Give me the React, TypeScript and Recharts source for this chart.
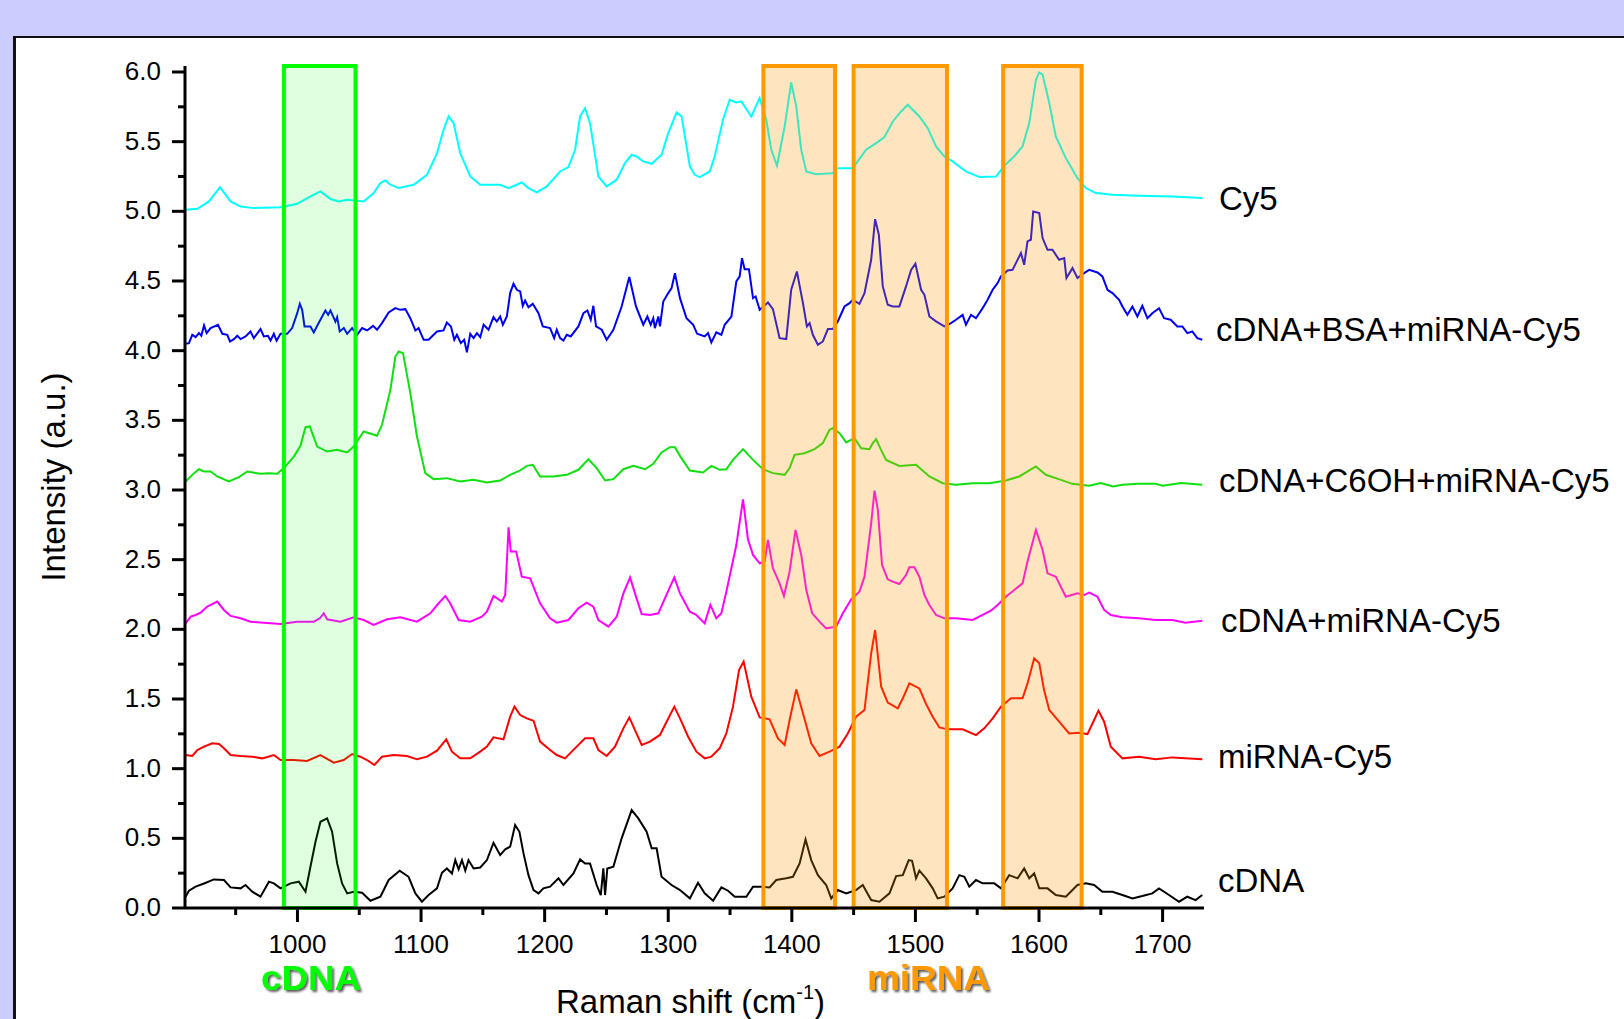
import { LineChart, Line, XAxis, YAxis, ReferenceArea } from 'recharts';

// Raman shift (cm-1) vs intensity, each spectrum as [shift, intensity]
const cy5: [number, number][] = [
  [909.5, 5.011], [919, 5.018], [928.4, 5.071], [937.3, 5.174], [945.9, 5.071], [954, 5.035], [964.7, 5.023],
  [986.3, 5.03], [999.8, 5.054], [1010.5, 5.107], [1018.6, 5.143], [1026.7, 5.088], [1033.4, 5.071], [1040.2, 5.083],
  [1053.6, 5.071], [1061.7, 5.131], [1067.1, 5.203], [1071.1, 5.222], [1075.2, 5.191], [1081.9, 5.167], [1094, 5.191],
  [1104.8, 5.262], [1112.9, 5.418], [1118.2, 5.585], [1122.3, 5.681], [1126.3, 5.633], [1131.7, 5.418], [1139.8, 5.25],
  [1147.9, 5.191], [1164, 5.191], [1170.8, 5.167], [1181.5, 5.207], [1186.9, 5.167], [1193.6, 5.136], [1201.7, 5.179],
  [1212.5, 5.286], [1219.2, 5.317], [1224.6, 5.442], [1228.7, 5.681], [1232.7, 5.741], [1236.7, 5.633], [1243.5, 5.25],
  [1250.2, 5.179], [1258.3, 5.227], [1265, 5.346], [1270.4, 5.406], [1274.4, 5.394], [1279.8, 5.358], [1286.6, 5.341],
  [1294.6, 5.406], [1300, 5.562], [1306.8, 5.71], [1310.8, 5.681], [1317.5, 5.322], [1321.4, 5.262], [1325.5, 5.246],
  [1333.6, 5.286], [1337.6, 5.394], [1344.3, 5.657], [1349.7, 5.801], [1355.1, 5.782], [1359.1, 5.789], [1367.2, 5.681],
  [1373.9, 5.813], [1379.3, 5.657], [1383.4, 5.442], [1388, 5.327], [1394.2, 5.609], [1399.5, 5.925], [1403.6, 5.753],
  [1407.6, 5.442], [1411.7, 5.286], [1419.7, 5.267], [1433.2, 5.274], [1435.9, 5.31], [1449.3, 5.31], [1460.1, 5.442],
  [1468.2, 5.49], [1475, 5.533], [1481.7, 5.645], [1488.4, 5.717], [1493.8, 5.765], [1503.2, 5.681], [1510, 5.597],
  [1516.7, 5.466], [1523.4, 5.394], [1530.1, 5.358], [1540.9, 5.286], [1551.7, 5.246], [1565.2, 5.25], [1571.9, 5.327],
  [1580, 5.394], [1586.7, 5.466], [1592.1, 5.633], [1597.5, 5.944], [1600.2, 5.997], [1602.9, 5.98], [1608.3, 5.777],
  [1613.6, 5.538], [1621.7, 5.382], [1631.1, 5.238], [1637.9, 5.167], [1646, 5.131], [1659.4, 5.119], [1681, 5.112],
  [1707.9, 5.107], [1732.1, 5.095],
];

const bsaMix: [number, number][] = [
  [909.5, 4.049], [912.2, 4.054], [914.9, 4.114], [917.6, 4.097], [920.3, 4.126], [922.2, 4.107], [924.4, 4.181],
  [926.5, 4.126], [929.7, 4.162], [935.7, 4.186], [939.2, 4.121], [943.2, 4.114], [945.4, 4.066], [948.6, 4.083],
  [951.3, 4.107], [954, 4.083], [958, 4.102], [962, 4.138], [964.7, 4.09], [970.1, 4.155], [972.8, 4.102],
  [976.1, 4.107], [978.2, 4.073], [980.9, 4.121], [983.1, 4.071], [986.3, 4.121], [991.7, 4.121], [995.7, 4.162],
  [999.8, 4.269], [1001.9, 4.336], [1003.8, 4.293], [1005.7, 4.174], [1010.5, 4.174], [1013.2, 4.131], [1016.4, 4.186],
  [1022.6, 4.288], [1024.8, 4.257], [1026.7, 4.288], [1030.7, 4.209], [1032.1, 4.241], [1034.2, 4.138], [1037.5, 4.162],
  [1040.2, 4.121], [1044.2, 4.162], [1048.2, 4.114], [1052.3, 4.162], [1056.3, 4.145], [1061.2, 4.178], [1064.4, 4.15],
  [1068.4, 4.198], [1073.8, 4.274], [1079.2, 4.305], [1083.2, 4.293], [1087.3, 4.298], [1091.3, 4.233], [1095.4, 4.145],
  [1098, 4.162], [1102.1, 4.078], [1106.1, 4.078], [1112.9, 4.138], [1118.2, 4.145], [1120.9, 4.202], [1124.2, 4.174],
  [1126.9, 4.078], [1129, 4.114], [1132.2, 4.054], [1134.9, 4.078], [1137.1, 3.988], [1139.8, 4.121], [1142.5, 4.09],
  [1145.2, 4.126], [1147.9, 4.097], [1150.6, 4.186], [1154.6, 4.15], [1158.6, 4.241], [1161.3, 4.209], [1164, 4.245],
  [1166.2, 4.186], [1169.4, 4.245], [1172.1, 4.413], [1174.8, 4.48], [1177.5, 4.437], [1180.2, 4.425], [1182.3, 4.322],
  [1184.2, 4.36], [1186.9, 4.312], [1190.4, 4.336], [1195, 4.269], [1198.5, 4.174], [1204.4, 4.162], [1207.7, 4.09],
  [1209.8, 4.15], [1212.5, 4.09], [1215.2, 4.073], [1217.9, 4.114], [1221.1, 4.102], [1227.3, 4.174], [1231.4, 4.269],
  [1234.6, 4.288], [1237.3, 4.222], [1239.4, 4.322], [1241.6, 4.174], [1246.2, 4.15], [1250.2, 4.078], [1255.6, 4.15],
  [1262.3, 4.317], [1268.5, 4.528], [1273.9, 4.317], [1279.8, 4.186], [1283.1, 4.245], [1285.8, 4.186], [1287.9, 4.233],
  [1289.2, 4.162], [1292, 4.245], [1293.3, 4.174], [1296, 4.353], [1300, 4.413], [1302.7, 4.449], [1305.4, 4.556],
  [1309.5, 4.377], [1314.8, 4.233], [1320.2, 4.186], [1323.4, 4.121], [1329.5, 4.102], [1332.2, 4.126], [1334.9, 4.059],
  [1338.9, 4.131], [1343, 4.114], [1345.7, 4.186], [1351.1, 4.245], [1355.1, 4.497], [1357.8, 4.533], [1359.7, 4.664],
  [1361.8, 4.585], [1365.3, 4.585], [1368.6, 4.377], [1370.7, 4.389], [1374, 4.293], [1380.7, 4.346], [1384.7, 4.298],
  [1390.1, 4.09], [1395.5, 4.083], [1399.5, 4.437], [1404.1, 4.568], [1409, 4.341], [1412.2, 4.174], [1414.4, 4.198],
  [1417, 4.114], [1421.1, 4.042], [1425.1, 4.066], [1429.2, 4.155], [1433.2, 4.155], [1437.2, 4.21], [1442.6, 4.317],
  [1446.7, 4.341], [1449.3, 4.365], [1454.7, 4.336], [1458.8, 4.413], [1464.2, 4.652], [1467.4, 4.944], [1470.4, 4.832],
  [1473.6, 4.461], [1477.6, 4.329], [1481.7, 4.317], [1487, 4.317], [1492.4, 4.461], [1496.5, 4.58], [1500, 4.624],
  [1504.6, 4.437], [1507.3, 4.401], [1511.3, 4.245], [1516.7, 4.21], [1523.4, 4.174], [1528.8, 4.198], [1532.8, 4.222],
  [1538.2, 4.257], [1540.9, 4.186], [1545, 4.257], [1549, 4.233], [1554.4, 4.305], [1558.4, 4.365], [1562.5, 4.437],
  [1566.5, 4.485], [1569.2, 4.533], [1574.6, 4.576], [1578.6, 4.58], [1581.3, 4.628], [1585.4, 4.7], [1588, 4.616],
  [1590.7, 4.784], [1593.4, 4.796], [1595.3, 4.999], [1600.2, 4.987], [1602.9, 4.808], [1606.9, 4.724], [1610.9, 4.724],
  [1616.3, 4.652], [1620.4, 4.664], [1622.2, 4.521], [1627.1, 4.592], [1631.1, 4.521], [1636.5, 4.556], [1640.6, 4.58],
  [1647.3, 4.561], [1651.3, 4.533], [1655.4, 4.437], [1659.4, 4.413], [1664.8, 4.365], [1667.5, 4.317], [1671.5, 4.257],
  [1675.6, 4.317], [1679.6, 4.245], [1683.6, 4.322], [1687.7, 4.233], [1691.7, 4.269], [1697.1, 4.305], [1701.2, 4.233],
  [1706.5, 4.222], [1711.9, 4.174], [1716, 4.174], [1720, 4.126], [1724, 4.138], [1728.1, 4.09], [1732.1, 4.078],
];

const c6ohMix: [number, number][] = [
  [909.5, 3.061], [916.3, 3.121], [920.3, 3.149], [924.4, 3.133], [929.7, 3.133], [935.1, 3.097], [944.5, 3.061],
  [952.6, 3.092], [959.4, 3.133], [970.1, 3.116], [976.9, 3.121], [983.6, 3.116], [989, 3.157], [997.1, 3.24],
  [1002.4, 3.317], [1006.5, 3.451], [1010, 3.456], [1015.9, 3.312], [1024, 3.276], [1032.1, 3.288], [1040.2, 3.269],
  [1045.5, 3.312], [1053.6, 3.42], [1064.4, 3.389], [1068.4, 3.468], [1075.2, 3.719], [1079.2, 3.958], [1081.9, 3.994],
  [1085.4, 3.982], [1091.3, 3.695], [1096.7, 3.384], [1103.4, 3.121], [1110.2, 3.078], [1120.9, 3.085], [1131.7, 3.061],
  [1142.5, 3.073], [1153.3, 3.054], [1164, 3.068], [1172.1, 3.109], [1180.2, 3.14], [1185.6, 3.173], [1190.4, 3.181],
  [1196.3, 3.097], [1207.1, 3.097], [1217.9, 3.109], [1227.3, 3.145], [1235.4, 3.221], [1242.1, 3.157], [1248.9, 3.068],
  [1255.6, 3.078], [1263.7, 3.149], [1271.8, 3.173], [1281.2, 3.149], [1287.9, 3.188], [1294.6, 3.269], [1301.4, 3.307],
  [1305.4, 3.307], [1309.5, 3.245], [1317.5, 3.14], [1328.2, 3.126], [1334.9, 3.173], [1341.6, 3.145], [1347, 3.149],
  [1352.4, 3.216], [1360.5, 3.293], [1368.6, 3.216], [1376.6, 3.149], [1384.7, 3.121], [1394.2, 3.109], [1398.2, 3.157],
  [1402.2, 3.252], [1410.3, 3.264], [1418.4, 3.293], [1425.1, 3.336], [1430.5, 3.432], [1433.2, 3.444], [1438.6, 3.408],
  [1444, 3.341], [1450.7, 3.372], [1456.1, 3.3], [1462.8, 3.293], [1465.5, 3.336], [1468.2, 3.365], [1472.2, 3.288],
  [1476.3, 3.216], [1487, 3.173], [1500.5, 3.181], [1511.3, 3.097], [1522.1, 3.049], [1532.8, 3.037], [1546.3, 3.049],
  [1559.8, 3.049], [1573.2, 3.068], [1584, 3.097], [1597.5, 3.169], [1605.5, 3.109], [1613.6, 3.085], [1627, 3.044],
  [1640.6, 3.03], [1650, 3.05], [1660, 3.025], [1667.5, 3.037], [1680, 3.045], [1694.4, 3.044], [1700, 3.03],
  [1715, 3.05], [1732.1, 3.037],
];

const cdnaMix: [number, number][] = [
  [909.5, 2.043], [913.6, 2.091], [917.6, 2.103], [921.7, 2.12], [927, 2.163], [935.1, 2.199], [940.5, 2.139],
  [945.9, 2.096], [954, 2.079], [962, 2.055], [972.8, 2.048], [986.3, 2.038], [999.8, 2.055], [1013.2, 2.055],
  [1018.1, 2.079], [1021.3, 2.115], [1024, 2.072], [1034.8, 2.055], [1045.5, 2.086], [1053.6, 2.067], [1061.7, 2.031],
  [1072.5, 2.072], [1083.2, 2.086], [1096.7, 2.055], [1107.5, 2.115], [1114.2, 2.187], [1119.6, 2.239], [1123.6, 2.187],
  [1130.4, 2.067], [1139.8, 2.055], [1149.2, 2.091], [1153.3, 2.127], [1158.6, 2.239], [1165.4, 2.199], [1168.1, 2.246],
  [1170.8, 2.732], [1172.6, 2.558], [1177, 2.558], [1181.5, 2.378], [1188.3, 2.366], [1196.3, 2.187], [1204.4, 2.079],
  [1209.8, 2.048], [1219.2, 2.067], [1227.3, 2.151], [1234, 2.191], [1239.4, 2.163], [1243.5, 2.067], [1251.6, 2.019],
  [1258.3, 2.091], [1263.7, 2.258], [1269.1, 2.373], [1273.1, 2.258], [1278.5, 2.11], [1285.2, 2.103], [1292, 2.115],
  [1297.3, 2.222], [1304.9, 2.373], [1309.5, 2.258], [1317.5, 2.127], [1322.8, 2.103], [1329.5, 2.043], [1334.1, 2.175],
  [1338.9, 2.079], [1343, 2.115], [1347, 2.27], [1351.1, 2.438], [1355.1, 2.605], [1360.5, 2.933], [1364.5, 2.646],
  [1368.6, 2.534], [1374, 2.474], [1378, 2.486], [1380.7, 2.641], [1384.7, 2.438], [1390.1, 2.33], [1393.6, 2.239],
  [1398.2, 2.414], [1403, 2.713], [1407.6, 2.534], [1411.7, 2.282], [1416.5, 2.115], [1422.4, 2.055], [1427.8, 2.007],
  [1435.9, 2.019], [1441.3, 2.115], [1448, 2.215], [1454.7, 2.27], [1458.8, 2.378], [1464.2, 2.761], [1466.9, 2.995],
  [1469.6, 2.857], [1473, 2.462], [1477.6, 2.359], [1481.7, 2.342], [1487, 2.325], [1492.4, 2.39], [1495.1, 2.445],
  [1499.2, 2.445], [1503.2, 2.378], [1507.3, 2.246], [1511.3, 2.175], [1516.7, 2.103], [1523.4, 2.079], [1532.8, 2.079],
  [1546.3, 2.067], [1554.4, 2.103], [1561.1, 2.134], [1566.5, 2.175], [1573.2, 2.234], [1580, 2.282], [1586.7, 2.33],
  [1590.7, 2.486], [1597.5, 2.713], [1602.9, 2.569], [1606.9, 2.402], [1613.6, 2.378], [1621.7, 2.234], [1631.1, 2.258],
  [1636.5, 2.246], [1640.6, 2.263], [1647.3, 2.234], [1652.7, 2.139], [1658.1, 2.103], [1667.5, 2.086], [1681, 2.079],
  [1694.4, 2.067], [1707.9, 2.067], [1718.6, 2.048], [1732.1, 2.062],
];

const mirnaCy5: [number, number][] = [
  [909.5, 1.098], [914.9, 1.091], [919, 1.134], [924.4, 1.158], [931.1, 1.182], [936.5, 1.177], [940.5, 1.146],
  [945.9, 1.098], [954, 1.091], [963.4, 1.086], [971.5, 1.074], [980.9, 1.098], [986.3, 1.062], [997.1, 1.062],
  [1007.8, 1.055], [1018.6, 1.098], [1029.4, 1.043], [1037.5, 1.062], [1044.2, 1.105], [1050.9, 1.086], [1056.3, 1.062],
  [1062.2, 1.026], [1068.4, 1.086], [1077.9, 1.098], [1088.6, 1.091], [1096.7, 1.067], [1104.8, 1.086], [1112.9, 1.129],
  [1120.4, 1.21], [1125, 1.122], [1131.7, 1.074], [1139.8, 1.074], [1147.9, 1.122], [1153.3, 1.158], [1158.6, 1.225],
  [1166.7, 1.21], [1172.1, 1.373], [1175.6, 1.445], [1180.2, 1.385], [1185.6, 1.361], [1191, 1.344], [1196.3, 1.194],
  [1204.4, 1.134], [1209.8, 1.098], [1216.5, 1.074], [1225.9, 1.158], [1232.7, 1.218], [1239.4, 1.218], [1243.5, 1.134],
  [1250.2, 1.091], [1256.9, 1.158], [1263.7, 1.289], [1268.5, 1.368], [1273.1, 1.277], [1278.5, 1.17], [1285.2, 1.194],
  [1293.3, 1.242], [1298.7, 1.337], [1304.9, 1.445], [1309.5, 1.361], [1316.1, 1.229], [1322.8, 1.122], [1329.5, 1.074],
  [1334.9, 1.086], [1341.6, 1.146], [1347, 1.253], [1352.4, 1.445], [1357.3, 1.708], [1361, 1.768], [1367.2, 1.517],
  [1374, 1.368], [1382, 1.354], [1388.8, 1.217], [1394.2, 1.17], [1398.2, 1.349], [1403.6, 1.569], [1409, 1.397],
  [1415.7, 1.182], [1422.4, 1.091], [1430.5, 1.122], [1438.6, 1.158], [1445.3, 1.253], [1452, 1.373], [1458.8, 1.421],
  [1464.2, 1.828], [1467.4, 1.995], [1472.3, 1.588], [1477.6, 1.474], [1485.7, 1.433], [1489.8, 1.505], [1495.1, 1.612],
  [1503.2, 1.576], [1508.6, 1.464], [1514, 1.373], [1519.4, 1.296], [1526.1, 1.282], [1538.2, 1.282], [1549, 1.241],
  [1555.7, 1.289], [1562.5, 1.361], [1569.2, 1.445], [1577.3, 1.505], [1586.7, 1.505], [1590.7, 1.612], [1596.1, 1.792],
  [1600.2, 1.756], [1604.1, 1.564], [1608.3, 1.421], [1616.3, 1.337], [1624.4, 1.253], [1632.5, 1.258], [1639.2, 1.248],
  [1644.6, 1.349], [1648.1, 1.416], [1652.7, 1.337], [1658.1, 1.158], [1667.5, 1.074], [1681, 1.086], [1694.4, 1.067],
  [1707.9, 1.081], [1732.1, 1.067],
];

const cdna: [number, number][] = [
  [909.5, 0.081], [912.2, 0.124], [917.6, 0.153], [924.4, 0.176], [932.4, 0.205], [940.5, 0.201], [945.9, 0.148],
  [954, 0.141], [958, 0.165], [963.4, 0.117], [970.1, 0.081], [976.9, 0.189], [980.9, 0.177], [986.3, 0.141],
  [994.4, 0.177], [1001.1, 0.189], [1006.5, 0.117], [1010.5, 0.296], [1014.6, 0.476], [1018.6, 0.619], [1024, 0.643],
  [1028, 0.548], [1032.1, 0.32], [1036.1, 0.176], [1040.2, 0.105], [1045.5, 0.117], [1052.3, 0.11], [1059, 0.052],
  [1067.1, 0.081], [1073.8, 0.201], [1082.7, 0.268], [1089.9, 0.224], [1095.4, 0.105], [1100.7, 0.045], [1106.1, 0.093],
  [1112.9, 0.141], [1116.9, 0.253], [1120.9, 0.284], [1125, 0.248], [1127.7, 0.344], [1130.4, 0.277], [1133.1, 0.344],
  [1135.8, 0.268], [1138.4, 0.344], [1142.5, 0.284], [1147.9, 0.291], [1153.3, 0.344], [1158.6, 0.468], [1164, 0.38],
  [1168.1, 0.421], [1172.1, 0.44], [1176.1, 0.595], [1179.6, 0.547], [1182.9, 0.392], [1186.9, 0.236], [1191, 0.129],
  [1195, 0.105], [1199, 0.141], [1204.4, 0.153], [1211.2, 0.213], [1215.2, 0.165], [1223.3, 0.248], [1228.7, 0.349],
  [1232.7, 0.32], [1236.7, 0.32], [1242.1, 0.165], [1245.4, 0.093], [1247.5, 0.284], [1248.9, 0.093], [1250.7, 0.284],
  [1255.6, 0.296], [1262.3, 0.5], [1270.4, 0.703], [1275.8, 0.643], [1282.5, 0.548], [1286.6, 0.428], [1290.6, 0.428],
  [1294.6, 0.224], [1302.7, 0.165], [1309.5, 0.129], [1317.5, 0.069], [1324.1, 0.181], [1329.5, 0.105], [1336.3, 0.052],
  [1343, 0.148], [1348.4, 0.124], [1353.8, 0.081], [1363.2, 0.081], [1368.6, 0.153], [1375.3, 0.153], [1382, 0.148],
  [1387.4, 0.201], [1395.5, 0.213], [1400.9, 0.224], [1406.3, 0.32], [1411.1, 0.492], [1415.7, 0.344], [1421.1, 0.236],
  [1427.8, 0.165], [1431.9, 0.069], [1437.2, 0.129], [1444, 0.105], [1452, 0.129], [1457.4, 0.165], [1464.2, 0.057],
  [1470.9, 0.045], [1479, 0.105], [1484.4, 0.229], [1489.8, 0.236], [1494.6, 0.344], [1497.3, 0.339], [1500.5, 0.213],
  [1503.2, 0.268], [1508.6, 0.213], [1514, 0.141], [1518, 0.069], [1523.4, 0.081], [1530.1, 0.141], [1535.5, 0.236],
  [1539.6, 0.224], [1543.6, 0.153], [1549, 0.201], [1554.4, 0.177], [1563.8, 0.177], [1569.2, 0.141], [1575.9, 0.236],
  [1582.7, 0.213], [1588, 0.284], [1592.1, 0.213], [1596.1, 0.248], [1600.2, 0.141], [1606.9, 0.141], [1613.6, 0.093],
  [1621.7, 0.081], [1631.1, 0.165], [1637.9, 0.177], [1644.6, 0.165], [1651.3, 0.117], [1659.4, 0.117], [1667.5, 0.093],
  [1675.6, 0.069], [1683.6, 0.086], [1691.7, 0.105], [1697.1, 0.141], [1705.2, 0.093], [1713.3, 0.045], [1720, 0.081],
  [1726.7, 0.057], [1732.1, 0.093],
];

const SERIES_NAMES = ['Cy5', 'cDNA+BSA+miRNA-Cy5', 'cDNA+C6OH+miRNA-Cy5', 'cDNA+miRNA-Cy5', 'miRNA-Cy5', 'cDNA'];
const SERIES_DATA = [cy5, bsaMix, c6ohMix, cdnaMix, mirnaCy5, cdna];
const SERIES_COLORS = ['#00FFFF', '#0000F0', '#10E010', '#FF00FF', '#FF0000', '#000000'];

const X_TICKS = [950, 1000, 1050, 1100, 1150, 1200, 1250, 1300, 1350, 1400, 1450, 1500, 1550, 1600, 1650, 1700];
const Y_TICKS = [0, 0.25, 0.5, 0.75, 1, 1.25, 1.5, 1.75, 2, 2.25, 2.5, 2.75, 3, 3.25, 3.5, 3.75, 4, 4.25, 4.5, 4.75, 5, 5.25, 5.5, 5.75, 6];

// highlighted bands: [from, to]
const CDNA_BAND = [989, 1047];
const MIRNA_BANDS = [[1377, 1435], [1450, 1525.5], [1571, 1634.5]];

const FONT = '"Liberation Sans", Arial, sans-serif';
const X_DOMAIN = [909, 1733.5];
const Y_DOMAIN = [0, 6.043];

// label baselines to the right of the plot
const LABEL_POS = [
  { x: 1219, y: 210 },
  { x: 1216, y: 341 },
  { x: 1219, y: 492 },
  { x: 1221, y: 632 },
  { x: 1218, y: 768 },
  { x: 1218, y: 892 },
];

function BottomTick({ x, y, payload }: any) {
  const major = payload.value % 100 === 0;
  return (
    <g>
      <line x1={x} x2={x} y1={y} y2={y + (major ? 14 : 7)} stroke="#000" strokeWidth={3} />
      {major && (
        <text x={x} y={y + 45} textAnchor="middle" fontSize={26} fontFamily={FONT} fill="#000">
          {payload.value}
        </text>
      )}
    </g>
  );
}

function LeftTick({ x, y, payload }: any) {
  const major = Math.round(payload.value * 100) % 50 === 0;
  return (
    <g>
      <line x1={x} x2={x - (major ? 13 : 7)} y1={y} y2={y} stroke="#000" strokeWidth={3} />
      {major && (
        <text x={x - 24} y={y + 8} textAnchor="end" fontSize={26} fontFamily={FONT} fill="#000">
          {payload.value.toFixed(1)}
        </text>
      )}
    </g>
  );
}

function TopTick({ x, y }: any) {
  return <line x1={x} x2={x} y1={y} y2={y + 4} stroke="#000" strokeWidth={2} />;
}

function RightTick({ x, y }: any) {
  return <line x1={x} x2={x - 4} y1={y} y2={y} stroke="#000" strokeWidth={2} />;
}

export default function App() {
  return (
    <div style={{ position: 'relative', width: 1624, height: 1019, background: '#CCCCFF', overflow: 'hidden' }}>
      <style>{'body{margin:0}'}</style>
      <div
        style={{
          position: 'absolute',
          left: 13,
          top: 36,
          width: 1700,
          height: 1100,
          background: '#fff',
          borderLeft: '3px solid #111',
          borderTop: '2px solid #111',
        }}
      />
      <div style={{ position: 'absolute', left: 0, top: 0 }}>
        <LineChart width={1624} height={1019} margin={{ top: 66, right: 420, bottom: 51, left: 85 }}>
          <XAxis
            dataKey="x"
            type="number"
            domain={X_DOMAIN}
            allowDataOverflow
            ticks={X_TICKS}
            interval={0}
            tick={BottomTick}
            tickLine={false}
            tickSize={0}
            tickMargin={0}
            height={60}
            axisLine={{ stroke: '#000', strokeWidth: 3 }}
          />
          <XAxis
            xAxisId="top"
            orientation="top"
            dataKey="x"
            type="number"
            domain={X_DOMAIN}
            allowDataOverflow
            ticks={X_TICKS}
            interval={0}
            tick={TopTick}
            tickLine={false}
            tickSize={0}
            tickMargin={0}
            height={0}
            axisLine={{ stroke: '#000', strokeWidth: 3 }}
          />
          <YAxis
            type="number"
            domain={Y_DOMAIN}
            allowDataOverflow
            ticks={Y_TICKS}
            interval={0}
            tick={LeftTick}
            tickLine={false}
            tickSize={0}
            tickMargin={0}
            width={100}
            axisLine={{ stroke: '#000', strokeWidth: 3 }}
          />
          <YAxis
            yAxisId="right"
            orientation="right"
            type="number"
            domain={Y_DOMAIN}
            allowDataOverflow
            ticks={Y_TICKS}
            interval={0}
            tick={RightTick}
            tickLine={false}
            tickSize={0}
            tickMargin={0}
            width={0}
            axisLine={{ stroke: '#000', strokeWidth: 3 }}
          />
          {SERIES_DATA.map((pts, i) => (
            <Line
              key={SERIES_NAMES[i]}
              name={SERIES_NAMES[i]}
              data={pts.map(([x, y]) => ({ x, y }))}
              dataKey="y"
              type="linear"
              stroke={SERIES_COLORS[i]}
              strokeWidth={2}
              dot={false}
              activeDot={false}
              isAnimationActive={false}
            />
          ))}
          <ReferenceArea
            x1={CDNA_BAND[0]}
            x2={CDNA_BAND[1]}
            fill="#00FF00"
            fillOpacity={0.12}
            stroke="#00FF00"
            strokeWidth={4}
            strokeOpacity={1}
            ifOverflow="visible"
            zIndex={450}
          />
          {MIRNA_BANDS.map((b) => (
            <ReferenceArea
              key={b[0]}
              x1={b[0]}
              x2={b[1]}
              fill="#FF9900"
              fillOpacity={0.25}
              stroke="#FF9900"
              strokeWidth={4}
              strokeOpacity={1}
              ifOverflow="visible"
              zIndex={450}
            />
          ))}
        </LineChart>
      </div>
      <svg
        width={1624}
        height={1019}
        style={{ position: 'absolute', left: 0, top: 0, pointerEvents: 'none' }}
        fontFamily={FONT}
      >
        <defs>
          <filter id="shadow" x="-10%" y="-20%" width="130%" height="150%">
            <feDropShadow dx="2" dy="2" stdDeviation="1" floodColor="#000" floodOpacity="0.65" />
          </filter>
        </defs>
        {SERIES_NAMES.map((n, i) => (
          <text key={n} x={LABEL_POS[i].x} y={LABEL_POS[i].y} fontSize={33} fill="#000">
            {n}
          </text>
        ))}
        <text transform="translate(65,477) rotate(-90)" textAnchor="middle" fontSize={33} fill="#000">
          Intensity (a.u.)
        </text>
        <text x={556} y={1013} fontSize={33} fill="#000">
          Raman shift (cm
          <tspan fontSize={20} dy={-14}>-1</tspan>
          <tspan dy={14}>)</tspan>
        </text>
        <text
          x={261}
          y={990}
          fontSize={35}
          fontWeight="bold"
          fill="#00FF00"
          filter="url(#shadow)"
          textLength={100}
          lengthAdjust="spacingAndGlyphs"
        >
          cDNA
        </text>
        <text
          x={867}
          y={990}
          fontSize={35}
          fontWeight="bold"
          fill="#FF9900"
          filter="url(#shadow)"
          textLength={123}
          lengthAdjust="spacingAndGlyphs"
        >
          miRNA
        </text>
      </svg>
    </div>
  );
}
